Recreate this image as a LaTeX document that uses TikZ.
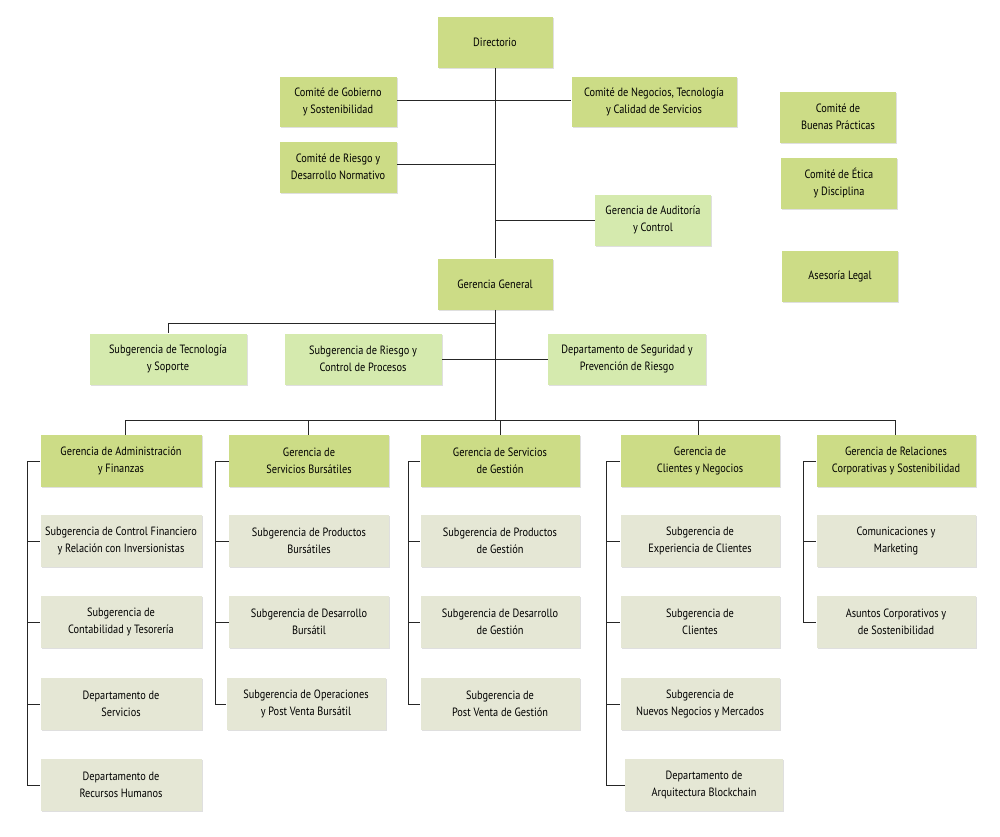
\documentclass[tikz,border=0pt]{standalone}
\usepackage{fontspec}
\setmainfont{PT Sans}[FakeStretch=0.86]
\usetikzlibrary{shadows}
\definecolor{gA}{HTML}{CCDC86}
\definecolor{gB}{HTML}{D5EAAE}
\definecolor{gC}{HTML}{E5E7D5}
\begin{document}
\begin{tikzpicture}[x=0.75pt,y=-0.75pt,
 box/.style={draw=none,align=center,font=\fontsize{9}{12.5}\selectfont,inner sep=0pt,
   drop shadow={opacity=0.25,shadow xshift=1pt,shadow yshift=-1pt}},
 bA/.style={box,fill=gA},
 bB/.style={box,fill=gB},
 bC/.style={box,fill=gC},
 sz/.style 2 args={minimum width=#1*0.75pt,minimum height=#2*0.75pt},
 ln/.style={draw=black!85,line width=0.75pt}]
\useasboundingbox[fill=white] (0,0) rectangle (1000,836);
% top
\node[bA,sz={115}{51}] (dir) at (495,42) {Directorio};
\node[bA,sz={117}{50}] (cg) at (338,102) {Comité de Gobierno\\y Sostenibilidad};
\node[bA,sz={165}{50}] (cn) at (654,102) {Comité de Negocios, Tecnología\\y Calidad de Servicios};
\node[bA,sz={117}{51}] (cr) at (338,167) {Comité de Riesgo y\\Desarrollo Normativo};
\node[bB,sz={116}{51}] (ga) at (653,220) {Gerencia de Auditoría\\y Control};
\node[bA,sz={116}{51}] (cb) at (838,117) {Comité de\\Buenas Prácticas};
\node[bA,sz={116}{51}] (ce) at (839,183) {Comité de Ética\\y Disciplina};
\node[bA,sz={116}{51}] (al) at (840,276) {Asesoría Legal};
\node[bA,sz={115}{51}] (gg) at (495,284) {Gerencia General};
\node[bB,sz={157}{51}] (st) at (168,359) {Subgerencia de Tecnología\\y Soporte};
\node[bB,sz={157}{51}] (sr) at (363,359) {Subgerencia de Riesgo y\\Control de Procesos};
\node[bB,sz={158}{51}] (ds) at (627,359) {Departamento de Seguridad y\\Prevención de Riesgo};
% gerencias
\node[bA,sz={161}{52}] (g1) at (121,461) {Gerencia de Administración\\y Finanzas};
\node[bA,sz={160}{52}] (g2) at (309,461) {Gerencia de\\Servicios Bursátiles};
\node[bA,sz={159}{52}] (g3) at (500,461) {Gerencia de Servicios\\de Gestión};
\node[bA,sz={159}{52}] (g4) at (700,461) {Gerencia de\\Clientes y Negocios};
\node[bA,sz={159}{52}] (g5) at (896,461) {Gerencia de Relaciones\\Corporativas y Sostenibilidad};
% column subs
\node[bC,sz={161}{52}] (a1) at (121,541) {Subgerencia de Control Financiero\\y Relación con Inversionistas};
\node[bC,sz={161}{52}] (a2) at (121,622) {Subgerencia de\\Contabilidad y Tesorería};
\node[bC,sz={161}{52}] (a3) at (121,704) {Departamento de\\Servicios};
\node[bC,sz={161}{52}] (a4) at (121,785) {Departamento de\\Recursos Humanos};
\node[bC,sz={160}{52}] (b1) at (309,541) {Subgerencia de Productos\\Bursátiles};
\node[bC,sz={160}{52}] (b2) at (309,622) {Subgerencia de Desarrollo\\Bursátil};
\node[bC,sz={159}{52}] (b3) at (306,704) {Subgerencia de Operaciones\\y Post Venta Bursátil};
\node[bC,sz={159}{52}] (c1) at (500,541) {Subgerencia de Productos\\de Gestión};
\node[bC,sz={159}{52}] (c2) at (500,622) {Subgerencia de Desarrollo\\de Gestión};
\node[bC,sz={159}{52}] (c3) at (500,704) {Subgerencia de\\Post Venta de Gestión};
\node[bC,sz={159}{52}] (d1) at (700,541) {Subgerencia de\\Experiencia de Clientes};
\node[bC,sz={159}{52}] (d2) at (700,622) {Subgerencia de\\Clientes};
\node[bC,sz={159}{52}] (d3) at (700,704) {Subgerencia de\\Nuevos Negocios y Mercados};
\node[bC,sz={158}{52}] (d4) at (704,785) {Departamento de\\Arquitectura Blockchain};
\node[bC,sz={159}{52}] (e1) at (896,541) {Comunicaciones y\\Marketing};
\node[bC,sz={159}{52}] (e2) at (896,622) {Asuntos Corporativos y\\de Sostenibilidad};
% connectors
\coordinate (j1) at (495,100);
\coordinate (j2) at (495,164);
\coordinate (j3) at (495,220);
\coordinate (j4) at (495,323);
\coordinate (j5) at (495,420);
\draw[ln] (dir.south) -- (gg.north);
\draw[ln] (cg.east|-j1) -- (cn.west|-j1);
\draw[ln] (cr.east|-j2) -- (j2);
\draw[ln] (j3) -- (ga.west);
\draw[ln] (gg.south) -- (j5);
\draw[ln] (j4) -| (st.north);
\draw[ln] (sr.east) -- (ds.west);
\coordinate (bl) at (125,420);
\coordinate (br) at (895,420);
\draw[ln] (bl) -- (br);
\draw[ln] (bl) -- (g1.north-|bl);
\draw[ln] (308,420) -- (308,435);
\draw[ln] (500,420) -- (500,435);
\draw[ln] (698,420) -- (698,435);
\draw[ln] (br) -- (g5.north-|br);
\foreach \g/\x/\last/\list in {g1/27/a4/{a1,a2,a3,a4}, g2/215/b3/{b1,b2,b3}, g3/408/c3/{c1,c2,c3}, g4/606/d4/{d1,d2,d3,d4}, g5/803/e2/{e1,e2}}{
  \coordinate (sp) at (\x,461);
  \draw[ln] (\g.west) -- (sp) |- (\last.west);
  \foreach \s in \list { \draw[ln] (\s.west-|sp) -- (\s.west); }
}
\end{tikzpicture}
\end{document}
